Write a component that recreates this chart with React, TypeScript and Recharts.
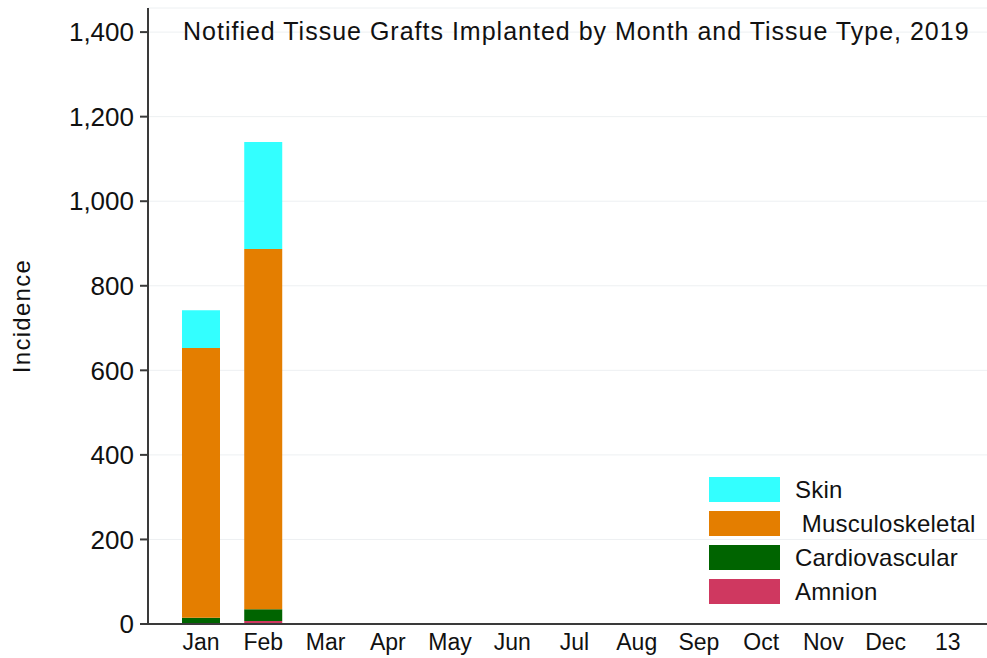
import { BarChart, Bar, XAxis, YAxis, CartesianGrid } from "recharts";

const months = ["Jan", "Feb", "Mar", "Apr", "May", "Jun", "Jul", "Aug", "Sep", "Oct", "Nov", "Dec", "13"];
const amnion = [2, 7];
const cardiovascular = [13, 28];
const musculoskeletal = [638, 852];
const skin = [89, 253];
const yTicks = [0, 200, 400, 600, 800, 1000, 1200, 1400];

const series = [
  { key: "skin", label: "Skin", color: "#33ffff" },
  { key: "musculo", label: " Musculoskeletal", color: "#e47e00" },
  { key: "cardio", label: "Cardiovascular", color: "#006400" },
  { key: "amnion", label: "Amnion", color: "#cf3860" },
];

const data = months.map((m, i) => ({
  month: m,
  amnion: amnion[i],
  cardio: cardiovascular[i],
  musculo: musculoskeletal[i],
  skin: skin[i],
}));

const FONT = "'Liberation Sans', Arial, sans-serif";
const AXIS = "#3a3a3a";

export default function App() {
  return (
    <div style={{ position: "absolute", left: 0, top: 0, width: 987, height: 658, background: "#fff", fontFamily: FONT }}>
      <BarChart width={987} height={658} data={data} margin={{ top: 8, right: 0, bottom: 0, left: 0 }} barSize={38}>
        <CartesianGrid vertical={false} stroke="#edf0f2" strokeWidth={1} />
        <XAxis
          dataKey="month"
          height={34}
          padding={{ left: 22, right: 8 }}
          tickLine={false}
          axisLine={{ stroke: AXIS, strokeWidth: 2 }}
          tick={{ fill: "#111", fontSize: 23, fontFamily: FONT }}
          tickMargin={4}
          interval={0}
        />
        <YAxis
          width={148}
          domain={[0, 1457]}
          ticks={yTicks}
          tickFormatter={(v) => v.toLocaleString("en-US")}
          axisLine={{ stroke: AXIS, strokeWidth: 2 }}
          tickLine={{ stroke: AXIS, strokeWidth: 2 }}
          tickSize={8}
          tickMargin={6}
          tick={{ fill: "#111", fontSize: 26, fontFamily: FONT }}
          allowDataOverflow
        />
        <Bar dataKey="amnion" stackId="a" fill="#cf3860" isAnimationActive={false} />
        <Bar dataKey="cardio" stackId="a" fill="#006400" isAnimationActive={false} />
        <Bar dataKey="musculo" stackId="a" fill="#e47e00" isAnimationActive={false} />
        <Bar dataKey="skin" stackId="a" fill="#33ffff" isAnimationActive={false} />
      </BarChart>

      <div
        style={{
          position: "absolute",
          left: 183,
          top: 19,
          fontSize: 25,
          lineHeight: "25px",
          letterSpacing: 1.0,
          color: "#111",
          whiteSpace: "nowrap",
        }}
      >
        Notified Tissue Grafts Implanted by Month and Tissue Type, 2019
      </div>

      <div
        style={{
          position: "absolute",
          left: 22,
          top: 316,
          transform: "translate(-50%, -50%) rotate(-90deg)",
          fontSize: 24,
          letterSpacing: 1.3,
          color: "#111",
          whiteSpace: "nowrap",
        }}
      >
        Incidence
      </div>

      <div style={{ position: "absolute", left: 709, top: 477 }}>
        {series.map((s) => (
          <div key={s.key} style={{ display: "flex", alignItems: "center", height: 25, marginBottom: 9 }}>
            <div style={{ width: 71, height: 25, background: s.color }} />
            <span style={{ marginLeft: 15, fontSize: 24, letterSpacing: 0.2, color: "#111", whiteSpace: "pre" }}>
              {s.label}
            </span>
          </div>
        ))}
      </div>
    </div>
  );
}
